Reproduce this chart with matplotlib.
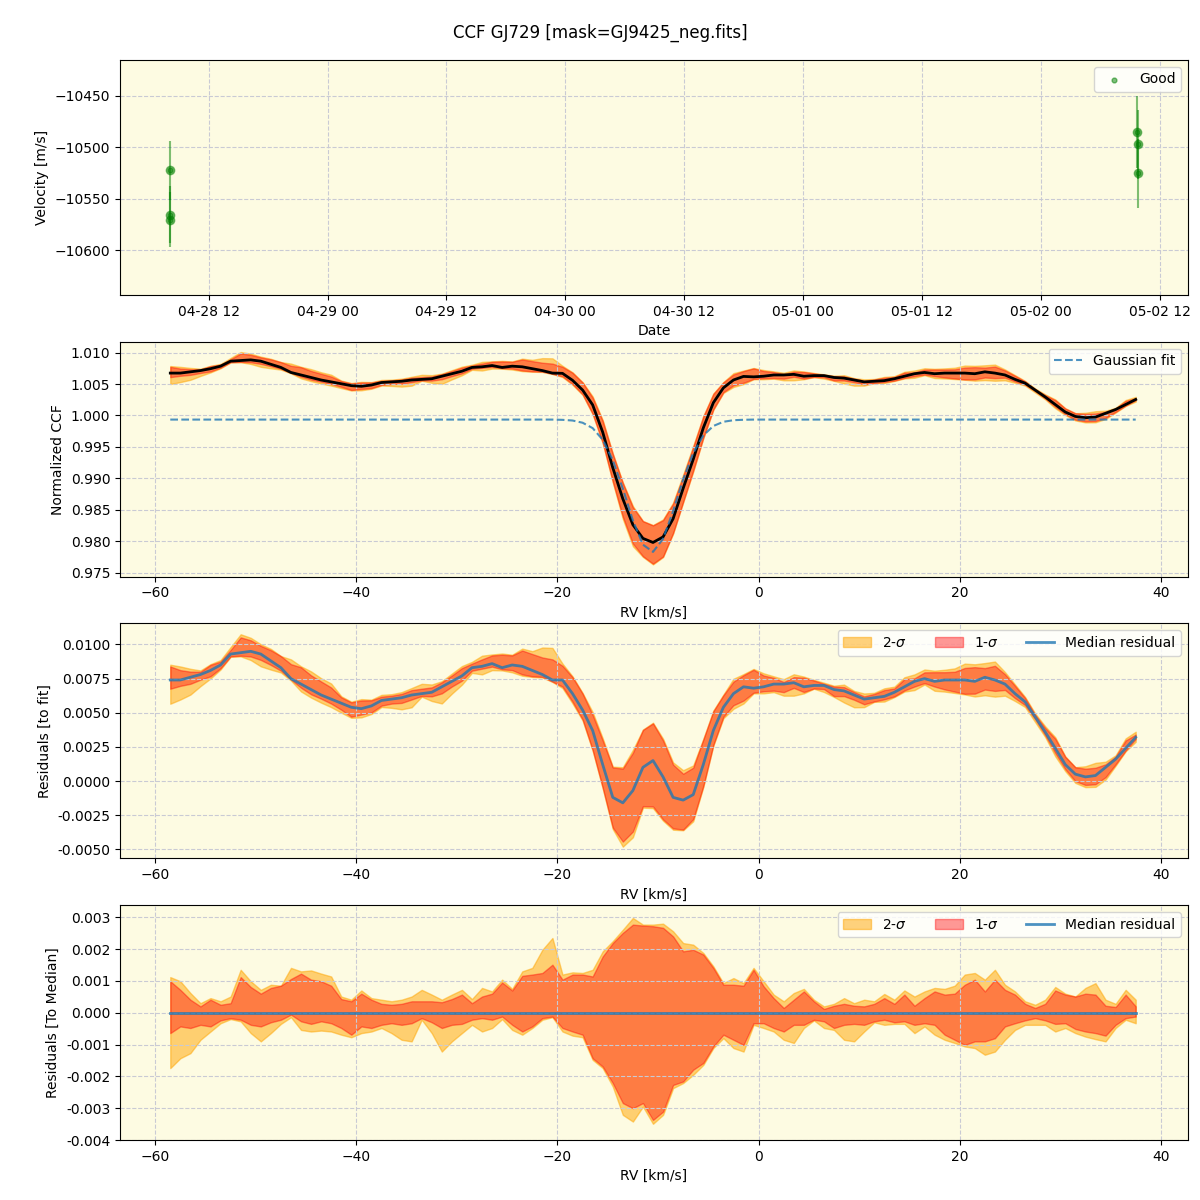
import numpy as np
import matplotlib
matplotlib.use('Agg')
import matplotlib.pyplot as plt
import matplotlib.dates as mdates
from datetime import datetime

# --- RV time series (top panel) ---
obs_times = [datetime(2023, 4, 28, 8, 8), datetime(2023, 4, 28, 8, 3), datetime(2023, 4, 28, 8, 3),
             datetime(2023, 5, 2, 9, 42), datetime(2023, 5, 2, 9, 48), datetime(2023, 5, 2, 9, 50)]
velocity = [-10522.4, -10565.5, -10570.3, -10485.3, -10497.1, -10525.2]
velocity_err = [28.7, 28.0, 27.0, 35.0, 33.4, 33.4]

# --- CCF grid [km/s] ---
rv = np.arange(-58.5, 38.0, 1.0)

# Gaussian fit to the CCF
gauss_fit = [0.99935] * 39 + [
    0.99931, 0.99920, 0.99885, 0.99799, 0.99614, 0.99290, 0.98834, 0.98331, 0.97944, 0.97829,
    0.98037, 0.98477, 0.98981, 0.99403, 0.99682, 0.99833, 0.99900, 0.99925, 0.99932] + [0.99935] * 39

# median residual to the fit
resid_median = [
    0.0074, 0.0074, 0.0076, 0.0078, 0.0081, 0.0085, 0.0093, 0.0094, 0.0095, 0.0093,
    0.0088, 0.0083, 0.0075, 0.0071, 0.0067, 0.0063, 0.0060, 0.0057, 0.0054, 0.0053,
    0.0055, 0.0059, 0.0060, 0.0061, 0.0063, 0.0064, 0.0065, 0.0069, 0.0073, 0.0077,
    0.0083, 0.0084, 0.0086, 0.0083, 0.0085, 0.0084, 0.0081, 0.0078, 0.0074, 0.0074,
    0.0064, 0.0052, 0.0037, 0.0012, -0.0012, -0.0016, -0.0007, 0.0010, 0.0015, 0.0003,
    -0.0012, -0.0014, -0.0010, 0.0012, 0.0037, 0.0054, 0.0064, 0.0069, 0.0068, 0.0069,
    0.0071, 0.0071, 0.0072, 0.0069, 0.0070, 0.0070, 0.0067, 0.0066, 0.0063, 0.0060,
    0.0061, 0.0062, 0.0065, 0.0069, 0.0073, 0.0075, 0.0073, 0.0074, 0.0074, 0.0074,
    0.0073, 0.0076, 0.0074, 0.0071, 0.0064, 0.0058, 0.0047, 0.0036, 0.0024, 0.0012,
    0.0005, 0.0003, 0.0004, 0.0010, 0.0016, 0.0024, 0.0032]

# percentile offsets from the median (units of 1e-3)
hi2 = [
    1.12, 0.99, 0.62, 0.30, 0.46, 0.36, 0.51, 1.35, 0.99, 0.72,
    0.88, 0.85, 1.41, 1.30, 1.33, 1.23, 1.14, 0.51, 0.41, 0.70,
    0.46, 0.41, 0.36, 0.41, 0.51, 0.72, 0.57, 0.41, 0.57, 0.72,
    0.43, 0.78, 0.67, 1.04, 0.75, 1.30, 1.41, 1.98, 2.35, 1.20,
    1.27, 1.25, 1.35, 1.93, 2.25, 2.61, 2.98, 2.77, 2.77, 2.80,
    2.56, 2.19, 2.14, 1.88, 1.46, 0.93, 1.09, 0.93, 1.41, 0.99,
    0.57, 0.36, 0.62, 0.75, 0.41, 0.20, 0.28, 0.46, 0.30, 0.41,
    0.36, 0.59, 0.41, 0.70, 0.51, 0.67, 0.78, 0.75, 0.85, 1.20,
    1.25, 1.04, 1.35, 0.88, 0.67, 0.36, 0.25, 0.41, 0.81, 0.60,
    0.51, 0.78, 0.93, 0.41, 0.28, 0.72, 0.41]
hi1 = [
    0.99, 0.72, 0.41, 0.20, 0.41, 0.25, 0.30, 1.12, 0.81, 0.60,
    0.78, 0.85, 1.06, 1.23, 1.04, 0.99, 0.85, 0.43, 0.36, 0.60,
    0.41, 0.28, 0.25, 0.28, 0.36, 0.36, 0.36, 0.33, 0.43, 0.57,
    0.30, 0.51, 0.60, 0.95, 0.70, 1.16, 1.20, 1.25, 1.51, 1.04,
    1.20, 1.20, 1.14, 1.77, 2.19, 2.51, 2.77, 2.74, 2.72, 2.67,
    2.40, 1.93, 1.98, 1.83, 1.41, 0.88, 0.88, 0.85, 1.35, 0.83,
    0.46, 0.15, 0.41, 0.67, 0.36, 0.12, 0.22, 0.28, 0.22, 0.20,
    0.28, 0.46, 0.28, 0.57, 0.22, 0.46, 0.67, 0.57, 0.60, 0.88,
    1.04, 0.67, 1.04, 0.72, 0.57, 0.28, 0.15, 0.28, 0.70, 0.57,
    0.51, 0.60, 0.57, 0.22, 0.18, 0.57, 0.20]
lo1 = [
    -0.64, -0.43, -0.48, -0.38, -0.43, -0.24, -0.17, -0.22, -0.38, -0.43,
    -0.30, -0.22, -0.06, -0.27, -0.35, -0.27, -0.33, -0.48, -0.69, -0.43,
    -0.48, -0.38, -0.33, -0.38, -0.33, -0.17, -0.30, -0.48, -0.38, -0.35,
    -0.22, -0.17, -0.22, -0.12, -0.38, -0.59, -0.43, -0.17, -0.12, -0.48,
    -0.59, -0.69, -1.43, -1.69, -2.21, -2.84, -3.00, -2.84, -3.37, -3.11,
    -2.27, -2.16, -1.79, -1.58, -1.06, -0.69, -0.85, -1.01, -0.33, -0.33,
    -0.48, -0.59, -0.38, -0.38, -0.22, -0.27, -0.48, -0.38, -0.35, -0.38,
    -0.27, -0.22, -0.30, -0.27, -0.38, -0.33, -0.38, -0.69, -0.85, -1.01,
    -0.90, -0.90, -0.80, -0.43, -0.33, -0.24, -0.17, -0.24, -0.35, -0.33,
    -0.51, -0.59, -0.64, -0.72, -0.38, -0.17, -0.12]
lo2 = [
    -1.74, -1.43, -1.27, -0.85, -0.59, -0.33, -0.20, -0.27, -0.64, -0.90,
    -0.64, -0.35, -0.14, -0.54, -0.59, -0.56, -0.59, -0.69, -0.77, -0.64,
    -0.59, -0.48, -0.64, -0.85, -0.90, -0.22, -0.64, -1.22, -0.90, -0.64,
    -0.38, -0.59, -0.48, -0.20, -0.54, -0.69, -0.48, -0.22, -0.14, -0.59,
    -0.72, -0.77, -1.48, -1.74, -2.32, -3.21, -3.42, -2.95, -3.49, -3.21,
    -2.37, -2.21, -1.95, -1.64, -1.11, -0.80, -1.11, -1.22, -0.38, -0.48,
    -0.59, -0.85, -0.95, -0.48, -0.24, -0.48, -0.54, -0.85, -0.90, -0.59,
    -0.30, -0.38, -0.35, -0.35, -0.64, -0.43, -0.69, -0.85, -0.95, -1.06,
    -1.11, -1.32, -1.22, -0.85, -0.54, -0.38, -0.38, -0.38, -0.59, -0.48,
    -0.64, -0.75, -0.83, -0.90, -0.48, -0.22, -0.33]

BG = '#fdfbe2'
GRID = '#c9cad4'


def style(ax):
    ax.set_facecolor(BG)
    ax.grid(True, linestyle='--', color=GRID, linewidth=0.8)


def band_panel(ax, center, ylabel, median_label=None, median_color='black'):
    h1 = np.array(hi1) * 1e-3
    h2 = np.array(hi2) * 1e-3
    l1 = np.array(lo1) * 1e-3
    l2 = np.array(lo2) * 1e-3
    ax.fill_between(rv, center + l2, center + h2, color='orange', alpha=0.5, label='2-$\\sigma$')
    ax.fill_between(rv, center + l1, center + h1, color='red', alpha=0.4, label='1-$\\sigma$')
    ax.plot(rv, center, color=median_color, lw=2, alpha=0.8 if median_color != 'black' else 1,
            label=median_label)
    ax.set_xlabel('RV [km/s]')
    ax.set_ylabel(ylabel)
    ax.set_xlim(-63.5, 42.7)
    style(ax)


def main():
    fig, axes = plt.subplots(4, 1, figsize=(12, 12), dpi=100)
    fig.subplots_adjust(left=0.1, right=0.99, top=0.95, bottom=0.05, hspace=0.2)
    fig.suptitle('CCF GJ729 [mask=GJ9425_neg.fits]', fontsize=12, y=0.98)

    # top: velocity vs date
    ax = axes[0]
    ax.errorbar(obs_times, velocity, yerr=velocity_err, fmt='o', color='green', alpha=0.5, ms=6)
    ax.scatter(obs_times, velocity, s=12, color='green', alpha=0.5, label='Good', zorder=3)
    ax.xaxis.set_major_locator(mdates.HourLocator(byhour=[0, 12]))
    ax.xaxis.set_major_formatter(mdates.DateFormatter('%m-%d %H'))
    ax.set_xlim(datetime(2023, 4, 28, 3, 3), datetime(2023, 5, 2, 14, 52))
    ax.set_ylim(-10643.4, -10415)
    ax.set_yticks([-10600, -10550, -10500, -10450])
    ax.set_xlabel('Date')
    ax.set_ylabel('Velocity [m/s]')
    style(ax)
    ax.legend(loc='upper right')

    fit = np.array(gauss_fit)
    res = np.array(resid_median)
    ccf = fit + res

    # CCF with Gaussian fit
    ax = axes[1]
    band_panel(ax, ccf, 'Normalized CCF')
    ax.plot(rv, fit, '--', color='tab:blue', lw=1.5, alpha=0.8, label='Gaussian fit')
    ax.set_ylim(0.97437, 1.01174)
    ax.set_yticks([0.975, 0.980, 0.985, 0.990, 0.995, 1.000, 1.005, 1.010])
    handles, labels = ax.get_legend_handles_labels()
    ax.legend([handles[-1]], [labels[-1]], loc='upper right')

    # residuals to the fit
    ax = axes[2]
    band_panel(ax, res, 'Residuals [to fit]', 'Median residual', 'tab:blue')
    ax.set_ylim(-0.00566, 0.01154)
    ax.set_yticks([-0.005, -0.0025, 0.0, 0.0025, 0.005, 0.0075, 0.01])
    ax.yaxis.set_major_formatter(matplotlib.ticker.FormatStrFormatter('%.4f'))
    ax.legend(loc='upper right', ncol=3)

    # residuals to the median
    ax = axes[3]
    band_panel(ax, np.zeros_like(rv), 'Residuals [To Median]', 'Median residual', 'tab:blue')
    ax.set_ylim(-0.004, 0.00338)
    ax.set_yticks([-0.004, -0.003, -0.002, -0.001, 0.0, 0.001, 0.002, 0.003])
    ax.yaxis.set_major_formatter(matplotlib.ticker.FormatStrFormatter('%.3f'))
    ax.legend(loc='upper right', ncol=3)

    fig.savefig('out.png')


if __name__ == '__main__':
    main()
